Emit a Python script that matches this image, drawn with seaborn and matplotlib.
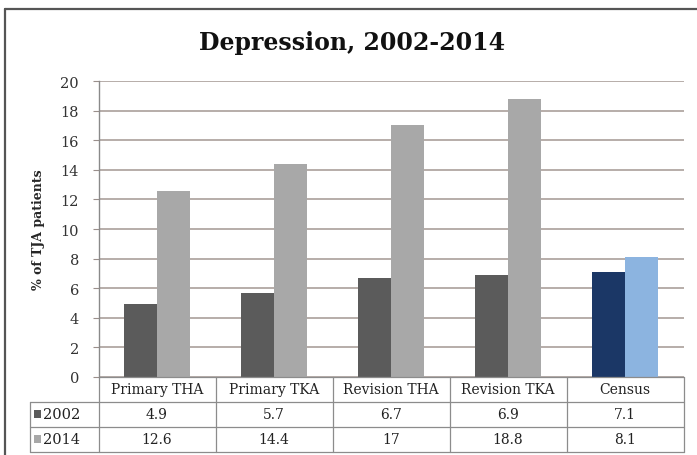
import matplotlib
matplotlib.use("Agg")
import matplotlib.pyplot as plt
import seaborn as sns
import pandas as pd
from matplotlib.lines import Line2D
from matplotlib.patches import Rectangle

categories = ["Primary THA", "Primary TKA", "Revision THA", "Revision TKA", "Census"]
years = ["2002", "2014"]
values_2002 = [4.9, 5.7, 6.7, 6.9, 7.1]
values_2014 = [12.6, 14.4, 17, 18.8, 8.1]
value_labels_2002 = ["4.9", "5.7", "6.7", "6.9", "7.1"]
value_labels_2014 = ["12.6", "14.4", "17", "18.8", "8.1"]
y_ticks = [0, 2, 4, 6, 8, 10, 12, 14, 16, 18, 20]

df = pd.DataFrame({
    "category": categories * 2,
    "year": [years[0]] * len(categories) + [years[1]] * len(categories),
    "value": values_2002 + values_2014,
})

sns.set_theme(style="white")
plt.rcParams["font.family"] = ["DejaVu Serif"]

W, H = 697, 456
fig = plt.figure(figsize=(W / 100, H / 100), dpi=100)
fig.patch.set_facecolor("white")

# axes placed in pixel coordinates
x0, x1 = 98.5, 683.5
y_top, y_bot = 82, 378
ax = fig.add_axes([x0 / W, 1 - y_bot / H, (x1 - x0) / W, (y_bot - y_top) / H])

gray_dark = "#5b5b5b"
gray_light = "#a8a8a8"
sns.barplot(data=df, x="category", y="value", hue="year", order=categories,
            hue_order=years, palette=[gray_dark, gray_light], width=0.57,
            gap=0, saturation=1, legend=False, ax=ax, linewidth=0)

# census bars in blue
ax.containers[0][4].set_facecolor("#1b3766")
ax.containers[1][4].set_facecolor("#8cb4e0")

ax.set_ylim(0, 20)
ax.set_xlim(-0.5, len(categories) - 0.5)
ax.set_yticks(y_ticks)
ax.set_yticklabels([str(t) for t in y_ticks], fontsize=10.5, color="#333333")
ax.tick_params(axis="y", length=4, width=0.8, color="#9a8f8b", pad=10, left=True)
ax.set_xticks([])
ax.set_xlabel("")
ax.set_ylabel("% of TJA patients", fontsize=9, fontweight="bold", labelpad=11)
ax.yaxis.grid(True, color="#a39792", linewidth=1.1)
ax.set_axisbelow(True)
for s in ["top", "right", "bottom"]:
    ax.spines[s].set_visible(False)
ax.spines["left"].set_color("#8a8a8a")
ax.spines["left"].set_linewidth(1.0)

# data table below the axes
row_h = 25 / (y_bot - y_top)
tr = ax.get_xaxis_transform()
line_kw = dict(color="#8c8c8c", linewidth=0.9, transform=tr, clip_on=False)
label_left = -0.5 + (30 - x0) / ((x1 - x0) / len(categories))
# horizontal lines
ax.add_line(Line2D([-0.5, 4.5], [0, 0], **line_kw))
for k in (1, 2, 3):
    ax.add_line(Line2D([label_left, 4.5], [-k * row_h, -k * row_h], **line_kw))
# vertical lines
for i in range(len(categories) + 1):
    ax.add_line(Line2D([i - 0.5, i - 0.5], [0, -3 * row_h], **line_kw))
ax.add_line(Line2D([label_left, label_left], [-row_h, -3 * row_h], **line_kw))

cell_fs = 10
for i, c in enumerate(categories):
    ax.text(i, -0.5 * row_h, c, transform=tr, ha="center", va="center",
            fontsize=cell_fs, color="#222222")
    ax.text(i, -1.5 * row_h, value_labels_2002[i], transform=tr, ha="center",
            va="center", fontsize=cell_fs, color="#222222")
    ax.text(i, -2.5 * row_h, value_labels_2014[i], transform=tr, ha="center",
            va="center", fontsize=cell_fs, color="#222222")

for k, (yr, col) in enumerate(zip(years, [gray_dark, gray_light])):
    yc = -(1.5 + k) * row_h
    ax.add_patch(Rectangle((label_left + 0.035, yc - 0.013), 0.06, 0.028,
                           transform=tr, facecolor=col, edgecolor="none",
                           clip_on=False))
    ax.text(label_left + 0.11, yc, yr, transform=tr, ha="left", va="center",
            fontsize=10.5, color="#222222")

# outer chart frame
fig.add_artist(Line2D([5 / W, 5 / W], [0, 1 - 10 / H], transform=fig.transFigure,
                      color="#555555", linewidth=1.6))
fig.add_artist(Line2D([5 / W, 1], [1 - 10 / H, 1 - 10 / H], transform=fig.transFigure,
                      color="#555555", linewidth=1.6))

fig.text(352 / W, 1 - 43 / H, "Depression, 2002-2014", ha="center", va="center",
         fontsize=17, fontweight="bold", color="#111111")

fig.savefig("out.png", dpi=100, facecolor="white")
